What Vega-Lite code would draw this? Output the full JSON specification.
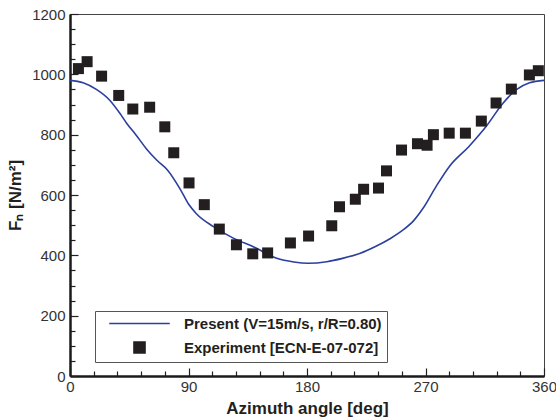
{
  "$schema": "https://vega.github.io/schema/vega-lite/v6.json",
  "width": 474,
  "height": 362,
  "autosize": "none",
  "padding": {"left": 70, "top": 14, "right": 12, "bottom": 44},
  "background": "white",
  "config": {
    "view": {"stroke": "#444", "strokeWidth": 1},
    "font": "Liberation Sans"
  },
  "datasets": {
    "line": [
      {"deg": 0, "fn": 980},
      {"deg": 10, "fn": 972},
      {"deg": 20, "fn": 950},
      {"deg": 30, "fn": 915},
      {"deg": 38, "fn": 870},
      {"deg": 43, "fn": 838},
      {"deg": 50, "fn": 800},
      {"deg": 58.6, "fn": 750},
      {"deg": 66, "fn": 715},
      {"deg": 74, "fn": 683},
      {"deg": 84, "fn": 617},
      {"deg": 90, "fn": 570},
      {"deg": 96, "fn": 538},
      {"deg": 109, "fn": 495},
      {"deg": 124, "fn": 457},
      {"deg": 140, "fn": 427},
      {"deg": 157, "fn": 390},
      {"deg": 170, "fn": 378},
      {"deg": 181, "fn": 374},
      {"deg": 195, "fn": 379},
      {"deg": 207, "fn": 390},
      {"deg": 220, "fn": 406},
      {"deg": 232, "fn": 429},
      {"deg": 243, "fn": 455},
      {"deg": 253, "fn": 484},
      {"deg": 261, "fn": 515},
      {"deg": 268, "fn": 555},
      {"deg": 278, "fn": 628},
      {"deg": 288, "fn": 694},
      {"deg": 303, "fn": 761},
      {"deg": 316, "fn": 827},
      {"deg": 329, "fn": 905},
      {"deg": 339, "fn": 949},
      {"deg": 349, "fn": 972},
      {"deg": 360, "fn": 980}
    ],
    "pts": [
      {"deg": 6.4, "fn": 1019, "series": "Experiment [ECN-E-07-072]"},
      {"deg": 13, "fn": 1042, "series": "Experiment [ECN-E-07-072]"},
      {"deg": 24, "fn": 994, "series": "Experiment [ECN-E-07-072]"},
      {"deg": 37, "fn": 930, "series": "Experiment [ECN-E-07-072]"},
      {"deg": 47.7, "fn": 885, "series": "Experiment [ECN-E-07-072]"},
      {"deg": 60.5, "fn": 891, "series": "Experiment [ECN-E-07-072]"},
      {"deg": 72, "fn": 826, "series": "Experiment [ECN-E-07-072]"},
      {"deg": 78.8, "fn": 740, "series": "Experiment [ECN-E-07-072]"},
      {"deg": 90.4, "fn": 640, "series": "Experiment [ECN-E-07-072]"},
      {"deg": 102, "fn": 568, "series": "Experiment [ECN-E-07-072]"},
      {"deg": 113.4, "fn": 487, "series": "Experiment [ECN-E-07-072]"},
      {"deg": 126.4, "fn": 435, "series": "Experiment [ECN-E-07-072]"},
      {"deg": 138.8, "fn": 405, "series": "Experiment [ECN-E-07-072]"},
      {"deg": 150.1, "fn": 408, "series": "Experiment [ECN-E-07-072]"},
      {"deg": 167.4, "fn": 441, "series": "Experiment [ECN-E-07-072]"},
      {"deg": 181.2, "fn": 464, "series": "Experiment [ECN-E-07-072]"},
      {"deg": 198.8, "fn": 498, "series": "Experiment [ECN-E-07-072]"},
      {"deg": 204.7, "fn": 561, "series": "Experiment [ECN-E-07-072]"},
      {"deg": 216.7, "fn": 586, "series": "Experiment [ECN-E-07-072]"},
      {"deg": 223, "fn": 619, "series": "Experiment [ECN-E-07-072]"},
      {"deg": 234.3, "fn": 623, "series": "Experiment [ECN-E-07-072]"},
      {"deg": 240.4, "fn": 680, "series": "Experiment [ECN-E-07-072]"},
      {"deg": 251.8, "fn": 749, "series": "Experiment [ECN-E-07-072]"},
      {"deg": 263.9, "fn": 770, "series": "Experiment [ECN-E-07-072]"},
      {"deg": 271.2, "fn": 765, "series": "Experiment [ECN-E-07-072]"},
      {"deg": 276, "fn": 800, "series": "Experiment [ECN-E-07-072]"},
      {"deg": 288, "fn": 805, "series": "Experiment [ECN-E-07-072]"},
      {"deg": 300.3, "fn": 805, "series": "Experiment [ECN-E-07-072]"},
      {"deg": 312.4, "fn": 845, "series": "Experiment [ECN-E-07-072]"},
      {"deg": 323.6, "fn": 905, "series": "Experiment [ECN-E-07-072]"},
      {"deg": 335.2, "fn": 951, "series": "Experiment [ECN-E-07-072]"},
      {"deg": 348.9, "fn": 998, "series": "Experiment [ECN-E-07-072]"},
      {"deg": 355.7, "fn": 1012, "series": "Experiment [ECN-E-07-072]"}
    ]
  },
  "encoding": {
    "x": {
      "field": "deg", "type": "quantitative",
      "scale": {"domain": [0, 360], "nice": false, "zero": false},
      "axis": {
        "title": "Azimuth angle [deg]",
        "titleFont": "Liberation Sans", "titleFontSize": 17, "titleFontWeight": "bold", "titleColor": "#231f20", "titlePadding": 6,
        "values": [0, 18, 36, 54, 72, 90, 108, 126, 144, 162, 180, 198, 216, 234, 252, 270, 288, 306, 324, 342, 360],
        "labelExpr": "datum.value % 90 === 0 ? datum.value : ''",
        "labelFont": "Liberation Sans", "labelFontSize": 15, "labelColor": "#333", "labelPadding": 11,
        "labelFlush": false,
        "tickSize": {"condition": {"test": "datum.value % 90 === 0", "value": -8}, "value": -5},
        "tickColor": "#231f20", "tickWidth": 1.2,
        "domainColor": "#1a1a1a", "domainWidth": 2.5,
        "grid": false
      }
    },
    "y": {
      "field": "fn", "type": "quantitative",
      "scale": {"domain": [0, 1200], "nice": false},
      "axis": {
        "title": "F\u2099 [N/m\u00b2]",
        "titleFont": "Liberation Sans", "titleFontSize": 17, "titleFontWeight": "bold", "titleColor": "#231f20", "titlePadding": 7,
        "values": [0, 50, 100, 150, 200, 250, 300, 350, 400, 450, 500, 550, 600, 650, 700, 750, 800, 850, 900, 950, 1000, 1050, 1100, 1150, 1200],
        "labelExpr": "datum.value % 200 === 0 ? datum.value : ''",
        "labelFont": "Liberation Sans", "labelFontSize": 15, "labelColor": "#333", "labelPadding": 13,
        "labelFlush": false,
        "tickSize": {"condition": {"test": "datum.value % 200 === 0", "value": -8}, "value": -5},
        "tickColor": "#231f20", "tickWidth": 1.2,
        "domainColor": "#1a1a1a", "domainWidth": 2.5,
        "grid": false
      }
    }
  },
  "layer": [
    {
      "data": {"name": "line"},
      "mark": {"type": "line", "strokeWidth": 1.6, "interpolate": "monotone", "color": "#2b3f9e"},
      "encoding": {}
    },
    {
      "data": {"name": "pts"},
      "mark": {"type": "point", "filled": true, "opacity": 1, "size": 121},
      "encoding": {
        "color": {
          "field": "series", "type": "nominal",
          "scale": {"domain": ["Present (V=15m/s, r/R=0.80)", "Experiment [ECN-E-07-072]"], "range": ["#2b3f9e", "#231f20"]},
          "legend": {
            "title": null,
            "orient": "none", "legendX": 25, "legendY": 297,
            "strokeColor": "#555", "fillColor": "white",
            "padding": 5,
            "symbolSize": 121,
            "symbolOffset": 32,
            "labelOffset": 37,
            "labelFont": "Liberation Sans", "labelFontSize": 15, "labelFontWeight": "bold", "labelColor": "#231f20",
            "rowPadding": 6,
            "labelLimit": 400,
            "symbolOpacity": 1,
            "encode": {"symbols": {"update": {"stroke": {"scale": "color", "field": "value"}, "strokeWidth": {"value": 1.6}}}}
          }
        },
        "shape": {
          "field": "series", "type": "nominal",
          "scale": {"domain": ["Present (V=15m/s, r/R=0.80)", "Experiment [ECN-E-07-072]"], "range": ["M-5.5,0H5.5", "square"]},
          "legend": {
            "title": null,
            "orient": "none", "legendX": 25, "legendY": 297,
            "strokeColor": "#555", "fillColor": "white",
            "padding": 5,
            "symbolSize": 121,
            "symbolOffset": 32,
            "labelOffset": 37,
            "labelFont": "Liberation Sans", "labelFontSize": 15, "labelFontWeight": "bold", "labelColor": "#231f20",
            "rowPadding": 6,
            "labelLimit": 400,
            "symbolOpacity": 1,
            "encode": {"symbols": {"update": {"stroke": {"scale": "color", "field": "value"}, "strokeWidth": {"value": 1.6}}}}
          }
        }
      }
    }
  ]
}
